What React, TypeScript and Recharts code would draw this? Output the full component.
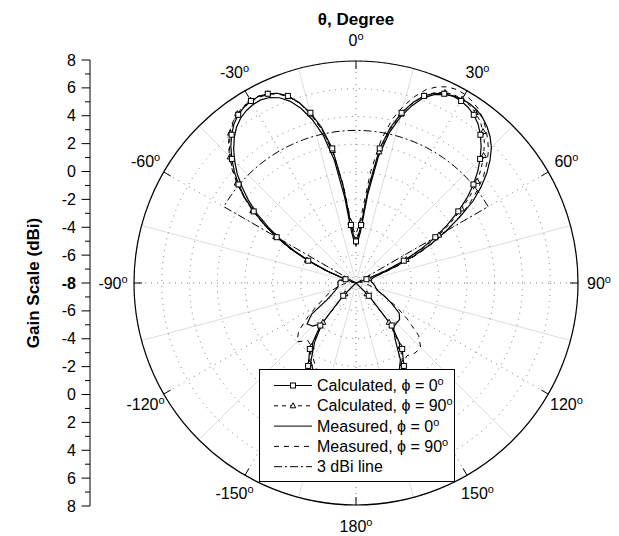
import React from "react";
import {
  RadarChart,
  Radar,
  PolarGrid,
  PolarAngleAxis,
  PolarRadiusAxis,
  Legend,
  LineChart,
  Line,
  XAxis,
  YAxis,
  Label,
} from "recharts";

const FONT = '"Liberation Sans", Arial, Helvetica, sans-serif';
const CX = 356;
const CY = 283;
const R = 222;

// theta in degrees, 0 at the top, clockwise positive
// 5 deg steps on the back side, 2.5 deg steps over the main lobes
const ANGLES = [
  -180, -175, -170, -165, -160, -155, -150, -145, -140, -135, -130, -125,
  -120, -115, -110, -105, -100, -95, -90, -85, -80,
  -77.5, -75, -72.5, -70, -67.5, -65, -62.5, -60,
  -57.5, -55, -52.5, -50, -47.5, -45, -42.5, -40,
  -37.5, -35, -32.5, -30, -27.5, -25, -22.5, -20,
  -17.5, -15, -12.5, -10, -7.5, -5, -2.5, 0,
  2.5, 5, 7.5, 10, 12.5, 15, 17.5, 20,
  22.5, 25, 27.5, 30, 32.5, 35, 37.5, 40,
  42.5, 45, 47.5, 50, 52.5, 55, 57.5, 60,
  62.5, 65, 67.5, 70, 72.5, 75, 77.5,
  80, 85, 90, 95, 100, 105, 110, 115, 120, 125,
  130, 135, 140, 145, 150, 155, 160, 165, 170, 175,
];

const ANGLE_TICKS = [-150, -120, -90, -60, -30, 0, 30, 60, 90, 120, 150, 180];
const MINOR_ANGLE_TICKS = [-165, -135, -105, -75, -45, -15, 15, 45, 75, 105, 135, 165];
const RADIUS_TICKS = [-8, -6, -4, -2, 0, 2, 4, 6, 8];
const SCALE_TICKS = [
  -16, -15, -14, -13, -12, -11, -10, -9, -8, -7, -6, -5, -4, -3, -2, -1, 0,
  1, 2, 3, 4, 5, 6, 7, 8, 9, 10, 11, 12, 13, 14, 15, 16,
];

// gain, dBi
const CALC_0 = [
  1.2, 1.1, 1.0, 0.7, 0.3, -0.3, -1.1, -2.2, -4.0, -6.7, -8, -8,
  -8, -8, -8, -8, -8, -8, -8, -8, -8,
  -8, -8, -8, -7.2, -5.7, -4.2, -2.75, -1.4,
  -0.2, 1.0, 2.1, 3.05, 3.9, 4.65, 5.35, 5.95,
  6.45, 6.8, 7.02, 7.15, 7.17, 7.05, 6.8, 6.35,
  5.65, 4.7, 3.5, 1.85, -1.0, -3.8, -4.7, -5.0,
  -4.7, -3.8, -1.0, 1.85, 3.5, 4.7, 5.65, 6.35,
  6.8, 7.05, 7.17, 7.15, 7.02, 6.8, 6.45, 5.95,
  5.35, 4.65, 3.9, 3.05, 2.1, 1.0, -0.2, -1.4,
  -2.75, -4.2, -5.7, -7.2, -8, -8, -8,
  -8, -8, -8, -8, -8, -8, -8, -8, -8, -8,
  -8, -6.7, -4.0, -2.2, -1.1, -0.3, 0.3, 0.7, 1.0, 1.1,
];

const CALC_90 = [
  1.0, 0.9, 0.8, 0.5, 0.1, -0.5, -1.3, -2.4, -4.3, -6.9, -8, -8,
  -8, -8, -8, -8, -8, -8, -8, -8, -8,
  -8, -8, -8, -7.1, -5.6, -4.1, -2.65, -1.3,
  -0.1, 1.1, 2.2, 3.2, 4.05, 4.85, 5.5, 6.1,
  6.55, 6.9, 7.1, 7.2, 7.2, 7.05, 6.8, 6.3,
  5.6, 4.6, 3.3, 1.7, -0.9, -3.6, -4.5, -4.9,
  -4.5, -3.6, -1.1, 1.6, 3.3, 4.6, 5.6, 6.35,
  6.85, 7.15, 7.3, 7.3, 7.2, 7.0, 6.7, 6.25,
  5.7, 5.0, 4.25, 3.4, 2.4, 1.3, 0.1, -1.1,
  -2.5, -4.0, -5.5, -7.0, -8, -8, -8,
  -8, -8, -8, -8, -8, -8, -8, -8, -8, -8,
  -8, -6.9, -4.3, -2.4, -1.3, -0.5, 0.1, 0.5, 0.8, 0.9,
];

const MEAS_0 = [
  0.8, 0.7, 0.5, 0.2, -0.3, -0.8, -1.5, -2.8, -4.2, -3.6, -3.4, -4.1,
  -5.6, -6.1, -6.4, -6.6, -6.7, -6.7, -6.7, -6.7, -6.8,
  -7.0, -7.2, -7.4, -7.0, -5.8, -4.4, -3.0, -1.7,
  -0.5, 0.7, 1.75, 2.7, 3.6, 4.35, 5.05, 5.65,
  6.15, 6.5, 6.72, 6.85, 6.88, 6.75, 6.45, 5.95,
  5.2, 4.2, 2.9, 1.0, -1.8, -4.3, -5.0, -5.3,
  -5.0, -4.3, -1.6, 1.2, 3.1, 4.4, 5.4, 6.2,
  6.7, 7.0, 7.2, 7.3, 7.3, 7.2, 7.0, 6.7,
  6.3, 5.8, 5.1, 4.3, 3.35, 2.3, 0.9, -0.5,
  -1.9, -3.4, -4.9, -6.2, -6.7, -6.8, -6.85,
  -6.9, -6.9, -6.8, -6.7, -6.6, -6.5, -6.3, -5.7, -5.0, -4.2,
  -3.9, -3.9, -3.8, -3.1, -1.6, -0.7, -0.2, 0.2, 0.5, 0.7,
];

const MEAS_90 = [
  0.5, 0.4, 0.2, -0.1, -0.6, -1.2, -1.8, -2.4, -2.6, -2.0, -2.6, -3.8,
  -4.8, -5.5, -6.0, -6.4, -6.8, -7.1, -7.3, -7.5, -7.7,
  -7.75, -7.8, -7.6, -7.0, -5.6, -4.2, -2.7, -1.3,
  -0.1, 1.1, 2.2, 3.2, 4.1, 4.9, 5.6, 6.2,
  6.6, 6.9, 7.05, 7.1, 7.1, 7.0, 6.75, 6.3,
  5.6, 4.6, 3.3, 1.5, -0.8, -3.3, -4.2, -4.5,
  -3.9, -2.8, 0.1, 2.5, 4.1, 5.2, 6.1, 6.85,
  7.3, 7.6, 7.72, 7.7, 7.55, 7.35, 7.0, 6.55,
  6.05, 5.5, 4.8, 4.0, 3.05, 2.0, 0.8, -0.4,
  -1.7, -3.1, -4.6, -6.0, -7.0, -7.6, -7.7,
  -7.7, -7.6, -7.5, -7.3, -7.0, -6.7, -6.3, -5.8, -4.7, -3.5,
  -2.1, -1.4, -1.4, -1.6, -1.3, -0.7, -0.2, 0.1, 0.3, 0.5,
];

const DBI_3 = [
  null, null, null, null, null, null, null, null, null, null, null, null,
  null, null, null, null, null, null, null, null, null,
  null, null, null, null, null, null, null, 3,
  3, 3, 3, 3, 3, 3, 3, 3,
  3, 3, 3, 3, 3, 3, 3, 3,
  3, 3, 3, 3, 3, 3, 3, 3,
  3, 3, 3, 3, 3, 3, 3, 3,
  3, 3, 3, 3, 3, 3, 3, 3,
  3, 3, 3, 3, 3, 3, 3, 3,
  null, null, null, null, null, null, null,
  null, null, null, null, null, null, null, null, null, null,
  null, null, null, null, null, null, null, null, null, null,
];

const data = ANGLES.map((angle, i) => ({
  angle,
  calc0: CALC_0[i],
  calc90: CALC_90[i],
  meas0: MEAS_0[i],
  meas90: MEAS_90[i],
  dbi3: DBI_3[i],
}));

const axisRows = SCALE_TICKS.map((v) => ({ v }));

const LEGEND_ORDER = ["calc0", "calc90", "meas0", "meas90", "dbi3"];

// "0º" -> 0 with a small raised o
function degText(s: string) {
  const parts = String(s).split("º");
  if (parts.length < 2) return s;
  return [
    parts[0],
    <tspan key="o" fontSize={11} dy={-6}>
      o
    </tspan>,
  ];
}

function AngleTick(props: any) {
  const { x, y, payload } = props;
  const dx = x - CX;
  const dy = y - CY;
  const d = Math.hypot(dx, dy) || 1;
  const lr = d + 8 + 21;
  const lx = CX + (dx / d) * lr;
  const ly = CY + (dy / d) * lr;
  return (
    <text x={lx} y={ly + 5.5} textAnchor="middle" fontSize={16} fontFamily={FONT} fill="#000">
      {degText(`${payload.value}º`)}
    </text>
  );
}

// markers only every 5 deg, and not on points clipped to the centre
function markerVisible(p: any) {
  if (p == null || !isFinite(p.cx) || !isFinite(p.cy)) return false;
  if (Math.hypot(p.cx - CX, p.cy - CY) < 3) return false;
  const row = p.payload?.payload ?? p.payload;
  const a = row?.angle ?? p.payload?.name;
  if (typeof a === "number" && a % 5 !== 0) return false;
  return true;
}

function squareDot(p: any) {
  if (!markerVisible(p)) return <g key={p?.index} />;
  return (
    <rect key={p.index} x={p.cx - 2.5} y={p.cy - 2.5} width={5} height={5} fill="#fff" stroke="#000" strokeWidth={1} />
  );
}

function triangleDot(p: any) {
  if (!markerVisible(p)) return <g key={p?.index} />;
  const { cx, cy } = p;
  return (
    <path
      key={p.index}
      d={`M${cx},${cy - 3}L${cx + 2.8},${cy + 2}L${cx - 2.8},${cy + 2}Z`}
      fill="#fff"
      stroke="#000"
      strokeWidth={1}
    />
  );
}

function renderLegend(props: any) {
  const items = [...(props.payload ?? [])].sort(
    (a: any, b: any) => LEGEND_ORDER.indexOf(a.dataKey) - LEGEND_ORDER.indexOf(b.dataKey)
  );
  return (
    <svg width={196} height={113} style={{ display: "block" }}>
      <rect x={0.5} y={0.5} width={195} height={112} fill="#fff" stroke="#000" strokeWidth={1} />
      {items.map((it: any, i: number) => {
        const y = 16.5 + i * 20.3;
        const dash = it.payload?.strokeDasharray;
        return (
          <g key={it.dataKey}>
            <line x1={15} x2={53} y1={y} y2={y} stroke="#000" strokeWidth={1} strokeDasharray={dash} />
            {it.dataKey === "calc0" && (
              <rect x={31.5} y={y - 2.5} width={5} height={5} fill="#fff" stroke="#000" strokeWidth={1} />
            )}
            {it.dataKey === "calc90" && (
              <path d={`M34,${y - 3}L36.8,${y + 2}L31.2,${y + 2}Z`} fill="#fff" stroke="#000" strokeWidth={1} />
            )}
            <text x={58} y={y + 5.5} fontSize={16} fontFamily={FONT} fill="#000">
              {degText(it.value)}
            </text>
          </g>
        );
      })}
    </svg>
  );
}

function GainTick(props: any) {
  const { x, y, payload } = props;
  const v = payload.value;
  const major = v % 2 === 0;
  const ax = x + 14;
  return (
    <g>
      <line x1={ax - (major ? 8.5 : 5)} x2={ax} y1={y} y2={y} stroke="#000" strokeWidth={1} />
      {major && (
        <text
          x={x}
          y={y + 5.5}
          textAnchor="end"
          fontSize={16}
          fontFamily={FONT}
          fontWeight={v === 0 ? "bold" : "normal"}
          fill="#000"
        >
          {Math.abs(v) - 8}
        </text>
      )}
    </g>
  );
}

function GainTitle(props: any) {
  const vb = props.viewBox || { x: 0, y: 60, width: 90, height: 446 };
  const x = vb.x + 39;
  const y = vb.y + vb.height / 2;
  return (
    <text
      x={x}
      y={y}
      transform={`rotate(-90, ${x}, ${y})`}
      textAnchor="middle"
      fontSize={17}
      fontWeight="bold"
      fontFamily={FONT}
      fill="#000"
    >
      Gain Scale (dBi)
    </text>
  );
}

export default function App() {
  return (
    <div
      style={{
        position: "absolute",
        left: 0,
        top: 0,
        width: 619,
        height: 536,
        background: "#fff",
        fontFamily: FONT,
      }}
    >
      <div style={{ position: "absolute", left: 0, top: 0 }}>
        <RadarChart
          width={619}
          height={536}
          data={data}
          cx={CX}
          cy={CY}
          outerRadius={R}
          startAngle={270}
          endAngle={-90}
          margin={{ top: 0, right: 0, bottom: 0, left: 0 }}
        >
          <PolarAngleAxis
            angleAxisId="minor"
            dataKey="angle"
            type="number"
            domain={[-180, 180]}
            ticks={MINOR_ANGLE_TICKS}
            axisLine={false}
            tickLine={false}
            tick={false}
          />
          <PolarGrid angleAxisId="minor" gridType="circle" polarRadius={[]} stroke="#dedede" strokeWidth={1} />
          <PolarGrid gridType="circle" stroke="#7a7a7a" strokeWidth={1} strokeDasharray="1 5" />
          <PolarRadiusAxis
            type="number"
            domain={[-8, 8]}
            ticks={RADIUS_TICKS}
            axisLine={false}
            tickLine={false}
            tick={false}
            allowDataOverflow
          />
          <PolarAngleAxis
            dataKey="angle"
            type="number"
            domain={[-180, 180]}
            ticks={ANGLE_TICKS}
            axisLineType="circle"
            axisLine={{ stroke: "#000", strokeWidth: 1.2 }}
            orientation="inner"
            tickSize={8}
            tickLine={{ stroke: "#000", strokeWidth: 1 }}
            stroke="#000"
            tick={AngleTick}
          />
          <Radar
            dataKey="dbi3"
            name="3 dBi line"
            stroke="#000"
            strokeWidth={1}
            strokeDasharray="8 3 2 3"
            fill="none"
            fillOpacity={0}
            dot={false}
            isAnimationActive={false}
          />
          <Radar
            dataKey="meas90"
            name="Measured, ϕ = 90º"
            stroke="#000"
            strokeWidth={1}
            strokeDasharray="5 5"
            fill="none"
            fillOpacity={0}
            dot={false}
            isAnimationActive={false}
          />
          <Radar
            dataKey="meas0"
            name="Measured, ϕ = 0º"
            stroke="#000"
            strokeWidth={1.2}
            fill="none"
            fillOpacity={0}
            dot={false}
            isAnimationActive={false}
          />
          <Radar
            dataKey="calc90"
            name="Calculated, ϕ = 90º"
            stroke="#000"
            strokeWidth={1}
            strokeDasharray="4 4"
            fill="none"
            fillOpacity={0}
            dot={triangleDot}
            isAnimationActive={false}
          />
          <Radar
            dataKey="calc0"
            name="Calculated, ϕ = 0º"
            stroke="#000"
            strokeWidth={1.2}
            fill="none"
            fillOpacity={0}
            dot={squareDot}
            isAnimationActive={false}
          />
          <Legend
            content={renderLegend}
            wrapperStyle={{ left: 259, top: 369, right: "auto", bottom: "auto", width: 196, height: 113 }}
          />
        </RadarChart>
      </div>

      <div style={{ position: "absolute", left: 0, top: 0 }}>
        <LineChart width={130} height={536} data={axisRows} margin={{ top: 60, right: 0, bottom: 30, left: 0 }}>
          <XAxis dataKey="v" hide />
          <YAxis
            type="number"
            domain={[-16, 16]}
            ticks={SCALE_TICKS}
            interval={0}
            width={90}
            axisLine={{ stroke: "#000", strokeWidth: 1 }}
            tickLine={false}
            tickSize={8}
            tickMargin={6}
            tick={GainTick}
          >
            <Label content={GainTitle} />
          </YAxis>
          <Line dataKey="v" stroke="none" dot={false} activeDot={false} isAnimationActive={false} />
        </LineChart>
      </div>

      <div
        style={{
          position: "absolute",
          left: 256,
          width: 200,
          top: 10.5,
          textAlign: "center",
          fontSize: 17,
          lineHeight: "17px",
          fontWeight: "bold",
          fontFamily: FONT,
        }}
      >
        θ, Degree
      </div>
    </div>
  );
}
